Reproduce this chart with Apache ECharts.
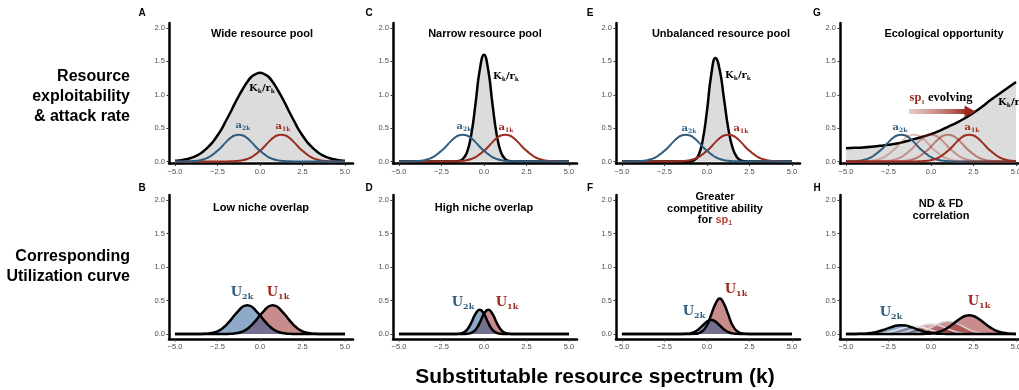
<!DOCTYPE html>
<html><head><meta charset="utf-8">
<script src="https://cdn.jsdelivr.net/npm/echarts@6/dist/echarts.min.js"></script>
<style>html,body{margin:0;padding:0;background:#fff}#c{width:1019px;height:390px}</style>
</head><body><div id="c"></div>
<script>
// ---------- data ----------
const kQ = [-5,-4.75,-4.5,-4.25,-4,-3.75,-3.5,-3.25,-3,-2.75,-2.5,-2.25,-2,-1.75,-1.5,-1.25,-1,-0.75,-0.5,-0.25,0,0.25,0.5,0.75,1,1.25,1.5,1.75,2,2.25,2.5,2.75,3,3.25,3.5,3.75,4,4.25,4.5,4.75,5];
const kH = [-5,-4.5,-4,-3.5,-3,-2.5,-2,-1.5,-1,-0.5,0,0.5,1,1.5,2,2.5,3,3.5,4,4.5,5];
const xTicks = [-5,-2.5,0,2.5,5];
const yTicks = [0,0.5,1,1.5,2];

// Row 1: resource exploitability (K/r) and attack rates (a)
const wideK = [0.01,0.016,0.026,0.039,0.058,0.085,0.12,0.17,0.23,0.30,0.39,0.49,0.61,0.73,0.86,0.98,1.09,1.19,1.27,1.31,1.33,1.31,1.27,1.19,1.09,0.98,0.86,0.73,0.61,0.49,0.39,0.30,0.23,0.17,0.12,0.085,0.058,0.039,0.026,0.016,0.01];
const narrowK = [0,0,0,0,0,0,0,0,0,0,0,0,0,0.001,0.006,0.034,0.136,0.40,0.86,1.37,1.60,1.37,0.86,0.40,0.136,0.034,0.006,0.001,0,0,0,0,0,0,0,0,0,0,0,0,0];
const unbalK = [0,0,0,0,0,0,0,0,0,0,0,0,0,0,0,0,0.003,0.019,0.091,0.32,0.76,1.30,1.55,1.37,0.94,0.50,0.21,0.068,0.017,0.003,0,0,0,0,0,0,0,0,0,0,0];
const attack2 = [0,0,0.001,0.002,0.005,0.01,0.02,0.038,0.066,0.11,0.16,0.22,0.29,0.35,0.39,0.40,0.39,0.35,0.29,0.22,0.16,0.11,0.066,0.038,0.02,0.01,0.005,0.002,0.001,0,0,0,0,0,0,0,0,0,0,0,0];
const attack1 = [0,0,0,0,0,0,0,0,0,0,0,0,0.001,0.002,0.005,0.01,0.02,0.038,0.066,0.11,0.16,0.22,0.29,0.35,0.39,0.40,0.39,0.35,0.29,0.22,0.16,0.11,0.066,0.038,0.02,0.01,0.005,0.002,0.001,0,0];
const oppK = [0.20,0.205,0.21,0.22,0.235,0.25,0.27,0.30,0.335,0.37,0.41,0.46,0.52,0.58,0.65,0.73,0.82,0.92,1.01,1.10,1.19];
const oppA2 = [0.001,0.002,0.005,0.01,0.02,0.038,0.066,0.11,0.16,0.22,0.29,0.35,0.39,0.40,0.39,0.35,0.29,0.22,0.16,0.11,0.066,0.038,0.02,0.01,0.005,0.002,0.001,0,0,0,0,0,0,0,0,0,0,0,0,0,0];
const oppA1s1 = [0,0,0,0.001,0.002,0.005,0.01,0.02,0.038,0.066,0.11,0.16,0.22,0.29,0.35,0.39,0.40,0.39,0.35,0.29,0.22,0.16,0.11,0.066,0.038,0.02,0.01,0.005,0.002,0.001,0,0,0,0,0,0,0,0,0,0,0];
const oppA1s2 = [0,0,0,0,0,0,0,0.001,0.002,0.005,0.01,0.02,0.038,0.066,0.11,0.16,0.22,0.29,0.35,0.39,0.40,0.39,0.35,0.29,0.22,0.16,0.11,0.066,0.038,0.02,0.01,0.005,0.002,0.001,0,0,0,0,0,0,0];
const oppA1s3 = [0,0,0,0,0,0,0,0,0,0,0,0.001,0.002,0.005,0.01,0.02,0.038,0.066,0.11,0.16,0.22,0.29,0.35,0.39,0.40,0.39,0.35,0.29,0.22,0.16,0.11,0.066,0.038,0.02,0.01,0.005,0.002,0.001,0,0,0];
const oppA1 = [0,0,0,0,0,0,0,0,0,0,0,0,0,0,0,0,0.001,0.002,0.005,0.01,0.02,0.038,0.066,0.11,0.16,0.22,0.29,0.35,0.39,0.40,0.39,0.35,0.29,0.22,0.16,0.11,0.066,0.038,0.02,0.01,0.005];

// Row 2: utilization curves (U)
const lowU2 = [0,0,0,0,0,0,0.001,0.003,0.008,0.019,0.039,0.074,0.13,0.20,0.28,0.35,0.41,0.43,0.41,0.35,0.28,0.20,0.13,0.074,0.039,0.019,0.008,0.003,0.001,0,0,0,0,0,0,0,0,0,0,0,0];
const lowU1 = [0,0,0,0,0,0,0,0,0,0,0,0,0.001,0.003,0.008,0.019,0.039,0.074,0.13,0.20,0.28,0.35,0.41,0.43,0.41,0.35,0.28,0.20,0.13,0.074,0.039,0.019,0.008,0.003,0.001,0,0,0,0,0,0];
const highU2 = [0,0,0,0,0,0,0,0,0,0,0,0,0,0,0.003,0.016,0.062,0.165,0.30,0.36,0.30,0.165,0.062,0.016,0.003,0,0,0,0,0,0,0,0,0,0,0,0,0,0,0,0];
const highU1 = [0,0,0,0,0,0,0,0,0,0,0,0,0,0,0,0,0.003,0.016,0.062,0.165,0.30,0.36,0.30,0.165,0.062,0.016,0.003,0,0,0,0,0,0,0,0,0,0,0,0,0,0];
const compU2 = [0,0,0,0,0,0,0,0,0,0,0,0,0,0,0,0.002,0.009,0.028,0.068,0.127,0.185,0.21,0.185,0.127,0.068,0.028,0.009,0.002,0,0,0,0,0,0,0,0,0,0,0,0,0];
const compU1 = [0,0,0,0,0,0,0,0,0,0,0,0,0,0,0,0,0,0.002,0.011,0.045,0.13,0.29,0.45,0.53,0.45,0.29,0.13,0.045,0.011,0.002,0,0,0,0,0,0,0,0,0,0,0];
const corrU2 = [0,0,0.001,0.002,0.004,0.008,0.016,0.027,0.044,0.065,0.088,0.109,0.125,0.13,0.125,0.109,0.088,0.065,0.044,0.027,0.016,0.008,0.004,0.002,0.001,0,0,0,0,0,0,0,0,0,0,0,0,0,0,0,0];
const corrU1 = [0,0,0,0,0,0,0,0,0,0,0,0,0,0,0,0,0,0,0.001,0.004,0.008,0.018,0.034,0.059,0.095,0.14,0.19,0.235,0.268,0.28,0.268,0.235,0.19,0.14,0.095,0.059,0.034,0.018,0.008,0.004,0.001];
const corrU1s1 = [0,0,0,0,0,0.001,0.002,0.004,0.007,0.015,0.025,0.041,0.06,0.081,0.10,0.115,0.12,0.115,0.10,0.081,0.06,0.041,0.025,0.015,0.007,0.004,0.002,0.001,0,0,0,0,0,0,0,0,0,0,0,0,0];
const corrU1s2 = [0,0,0,0,0,0,0,0,0,0.001,0.002,0.005,0.009,0.018,0.031,0.051,0.075,0.102,0.126,0.144,0.15,0.144,0.126,0.102,0.075,0.051,0.031,0.018,0.009,0.005,0.002,0.001,0,0,0,0,0,0,0,0,0];
const corrU1s3 = [0,0,0,0,0,0,0,0,0,0,0,0,0,0.001,0.003,0.006,0.012,0.023,0.039,0.064,0.095,0.129,0.159,0.183,0.19,0.183,0.159,0.129,0.095,0.064,0.039,0.023,0.012,0.006,0.003,0.001,0,0,0,0,0];

// ---------- layout ----------
const BLUE = '#2f5d7e', RED = '#9b2b1e';
const SANS = '"Liberation Sans", Arial, sans-serif';
const SERIF = '"DejaVu Serif", serif';
const SERIF2 = '"Liberation Serif", serif';
const lefts = [169, 393, 616, 840];
const fmt = v => (v < 0 ? '\u2212' : '') + Math.abs(v).toFixed(1);

const grids = [], xAxes = [], yAxes = [];
for (let r = 0; r < 2; r++) for (let c = 0; c < 4; c++) {
  const gi = r * 4 + c;
  grids.push({left: lefts[c], top: r ? 195 : 23, width: 184, height: r ? 144 : 140.5,
    outerBoundsMode: 'none', containLabel: false});
  xAxes.push({type: 'value', gridIndex: gi, min: -5.35, max: 5.47,
    axisLine: {show: true, onZero: false, lineStyle: {color: '#000', width: 2.5}},
    axisTick: {show: true, customValues: xTicks, length: 2.5, lineStyle: {color: '#333', width: 1}},
    axisLabel: {customValues: xTicks, formatter: fmt, color: '#4d4d4d', fontSize: 7.5, margin: 4, fontFamily: SANS, hideOverlap: false},
    splitLine: {show: false}});
  yAxes.push({type: 'value', gridIndex: gi, min: r ? -0.075 : -0.03, max: 2.075,
    axisLine: {show: true, onZero: false, lineStyle: {color: '#000', width: 2.5}},
    axisTick: {show: true, customValues: yTicks, length: 2.5, lineStyle: {color: '#333', width: 1}},
    axisLabel: {customValues: yTicks, formatter: v => v.toFixed(1), color: '#4d4d4d', fontSize: 7.5, margin: 4, fontFamily: SANS},
    splitLine: {show: false}});
}

const P = (ks, vs) => ks.map((k, i) => [k, vs[i]]);
function ln(gi, ks, vs, color, width, extra) {
  return Object.assign({type: 'line', xAxisIndex: gi, yAxisIndex: gi, data: P(ks, vs), smooth: true,
    symbol: 'none', silent: true, lineStyle: {color: color, width: width}, z: 3}, extra || {});
}
function fill(gi, ks, vs, color, extra) {
  return Object.assign({type: 'line', xAxisIndex: gi, yAxisIndex: gi, data: P(ks, vs), smooth: true,
    symbol: 'none', silent: true, lineStyle: {width: 0, opacity: 0}, areaStyle: {color: color, opacity: 1}, z: 2}, extra || {});
}
const GRAY = '#dcdcdc';
const FB = 'rgba(29,85,145,0.5)', FR = 'rgba(145,25,25,0.5)';

const series = [
  // A
  ln(0, kQ, wideK, '#000', 2.5, {areaStyle: {color: GRAY, opacity: 1}, z: 2}),
  ln(0, kQ, attack1, RED, 2), ln(0, kQ, attack2, BLUE, 2),
  // C
  ln(1, kQ, narrowK, '#000', 2.5, {areaStyle: {color: GRAY, opacity: 1}, z: 2}),
  ln(1, kQ, attack1, RED, 2), ln(1, kQ, attack2, BLUE, 2),
  // E
  ln(2, kQ, unbalK, '#000', 2.5, {areaStyle: {color: GRAY, opacity: 1}, z: 2}),
  ln(2, kQ, attack1, RED, 2), ln(2, kQ, attack2, BLUE, 2),
  // G
  ln(3, kH, oppK, '#000', 2.5, {areaStyle: {color: GRAY, opacity: 1}, z: 2,
    markLine: {silent: true, symbol: ['none', 'none'], animation: false,
      label: {show: false},
      lineStyle: {type: 'solid', width: 5, color: {type: 'linear', x: 0, y: 0, x2: 1, y2: 0,
        colorStops: [{offset: 0, color: 'rgba(205,150,140,0.45)'}, {offset: 1, color: '#9b2b1e'}]}},
      data: [[{coord: [-1.3, 0.75]}, {coord: [2.05, 0.75]}]]},
    markPoint: {silent: true, animation: false, symbol: 'triangle', symbolRotate: -90, symbolSize: [12, 11],
      itemStyle: {color: RED}, label: {show: false},
      data: [{coord: [2.3, 0.75]}]}}),
  ln(3, kQ, oppA2, BLUE, 2),
  ln(3, kQ, oppA1s1, 'rgba(155,43,30,0.3)', 2),
  ln(3, kQ, oppA1s2, 'rgba(155,43,30,0.42)', 2),
  ln(3, kQ, oppA1s3, 'rgba(155,43,30,0.55)', 2),
  ln(3, kQ, oppA1, RED, 2),
  // B
  fill(4, kQ, lowU1, FR), fill(4, kQ, lowU2, FB),
  ln(4, kQ, lowU1, '#000', 2.5), ln(4, kQ, lowU2, '#000', 2.5),
  // D
  fill(5, kQ, highU1, FR), fill(5, kQ, highU2, FB),
  ln(5, kQ, highU1, '#000', 2.5), ln(5, kQ, highU2, '#000', 2.5),
  // F
  fill(6, kQ, compU1, FR), fill(6, kQ, compU2, FB),
  ln(6, kQ, compU1, '#000', 2.5), ln(6, kQ, compU2, '#000', 2.5),
  // H
  fill(7, kQ, corrU1s1, 'rgba(165,70,70,0.35)', {lineStyle: {width: 1.5, color: 'rgba(235,235,235,0.95)'}}),
  fill(7, kQ, corrU1s2, 'rgba(160,55,55,0.42)', {lineStyle: {width: 1.5, color: 'rgba(225,225,225,0.95)'}}),
  fill(7, kQ, corrU1s3, 'rgba(150,40,40,0.5)', {lineStyle: {width: 1.5, color: 'rgba(215,215,215,0.95)'}}),
  fill(7, kQ, corrU2, FB), fill(7, kQ, corrU1, FR),
  ln(7, kQ, corrU2, '#000', 2.5), ln(7, kQ, corrU1, '#000', 2.5)
];

// ---------- text ----------
function T(x, y, text, font, extra) {
  return {type: 'text', x: x, y: y, silent: true, z: 100,
    style: Object.assign({text: text, fill: '#000', font: font, align: 'center', verticalAlign: 'middle'}, extra || {})};
}
function sub(x, y, main, color, mainSize, subSize) {
  const rich = {
    m: {font: 'bold ' + mainSize + 'px ' + SERIF, fill: color, lineHeight: mainSize + 3},
    s: {font: 'bold ' + subSize + 'px ' + SERIF, fill: color, lineHeight: subSize + 1, verticalAlign: 'bottom'}
  };
  return {type: 'text', x: x, y: y, silent: true, z: 100,
    style: {text: main, rich: rich, align: 'center', verticalAlign: 'middle'}};
}
const KR = '{m|K}{s|k}{m|/r}{s|k}';
const TF = 'bold 11px ' + SANS;
const LF = 'bold 10px ' + SANS;
const RF = 'bold 16px ' + SANS;

const graphics = [
  // row labels
  T(130, 67, 'Resource\nexploitability\n& attack rate', RF, {align: 'right', verticalAlign: 'top', lineHeight: 20}),
  T(130, 247, 'Corresponding\nUtilization curve', RF, {align: 'right', verticalAlign: 'top', lineHeight: 19.5}),
  T(595, 377, 'Substitutable resource spectrum (k)', 'bold 21px ' + SANS),
  // panel letters
  T(142, 13, 'A', LF), T(369, 13, 'C', LF), T(590, 13, 'E', LF), T(817, 13, 'G', LF),
  T(142, 188, 'B', LF), T(369, 188, 'D', LF), T(590, 188, 'F', LF), T(817, 188, 'H', LF),
  // titles
  T(262, 34, 'Wide resource pool', TF),
  T(485, 34, 'Narrow resource pool', TF),
  T(721, 34, 'Unbalanced resource pool', TF),
  T(944, 34, 'Ecological opportunity', TF),
  T(261, 208, 'Low niche overlap', TF),
  T(484, 208, 'High niche overlap', TF),
  T(715, 197, 'Greater', TF),
  T(715, 208.5, 'competitive ability', TF),
  {type: 'text', x: 715, y: 220, silent: true, z: 100, style: {text: '{t|for }{r|sp}{q|1}', align: 'center', verticalAlign: 'middle',
    rich: {t: {font: TF, fill: '#000', lineHeight: 13}, r: {font: TF, fill: '#b5473a', lineHeight: 13},
      q: {font: 'bold 7px ' + SANS, fill: '#b5473a', lineHeight: 8, verticalAlign: 'bottom'}}}},
  T(941, 204, 'ND & FD', TF),
  T(941, 216, 'correlation', TF),
  // curve labels row 1
  sub(262, 88, KR, '#000', 10, 6),
  sub(243, 125, '{m|a}{s|2k}', BLUE, 10, 6),
  sub(283, 126, '{m|a}{s|1k}', RED, 10, 6),
  sub(506, 76, KR, '#000', 10, 6),
  sub(464, 126, '{m|a}{s|2k}', BLUE, 10, 6),
  sub(506, 127, '{m|a}{s|1k}', RED, 10, 6),
  sub(738, 75, KR, '#000', 10, 6),
  sub(689, 128, '{m|a}{s|2k}', BLUE, 10, 6),
  sub(741, 128, '{m|a}{s|1k}', RED, 10, 6),
  sub(1011, 102, KR, '#000', 10, 6),
  sub(900, 127, '{m|a}{s|2k}', BLUE, 10, 6),
  sub(972, 127, '{m|a}{s|1k}', RED, 10, 6),
  {type: 'text', x: 941, y: 98, silent: true, z: 100, style: {text: '{r|sp}{q|1}{k| evolving}', align: 'center', verticalAlign: 'middle',
    rich: {r: {font: 'bold 12.5px ' + SERIF2, fill: RED, lineHeight: 15}, q: {font: 'bold 7px ' + SERIF2, fill: RED, lineHeight: 8, verticalAlign: 'bottom'},
      k: {font: 'bold 12.5px ' + SERIF2, fill: '#000', lineHeight: 15}}}},
  // curve labels row 2
  sub(242, 293, '{m|U}{s|2k}', BLUE, 13, 8),
  sub(278, 293, '{m|U}{s|1k}', RED, 13, 8),
  sub(463, 303, '{m|U}{s|2k}', BLUE, 13, 8),
  sub(507, 303, '{m|U}{s|1k}', RED, 13, 8),
  sub(694, 312, '{m|U}{s|2k}', BLUE, 13, 8),
  sub(736, 290, '{m|U}{s|1k}', RED, 13, 8),
  sub(891, 313, '{m|U}{s|2k}', BLUE, 13, 8),
  sub(979, 302, '{m|U}{s|1k}', RED, 13, 8)
];

const chart = echarts.init(document.getElementById('c'), null, {renderer: 'canvas'});
chart.setOption({
  animation: false,
  backgroundColor: '#fff',
  grid: grids, xAxis: xAxes, yAxis: yAxes,
  series: series,
  graphic: graphics
});
</script>
</body></html>
